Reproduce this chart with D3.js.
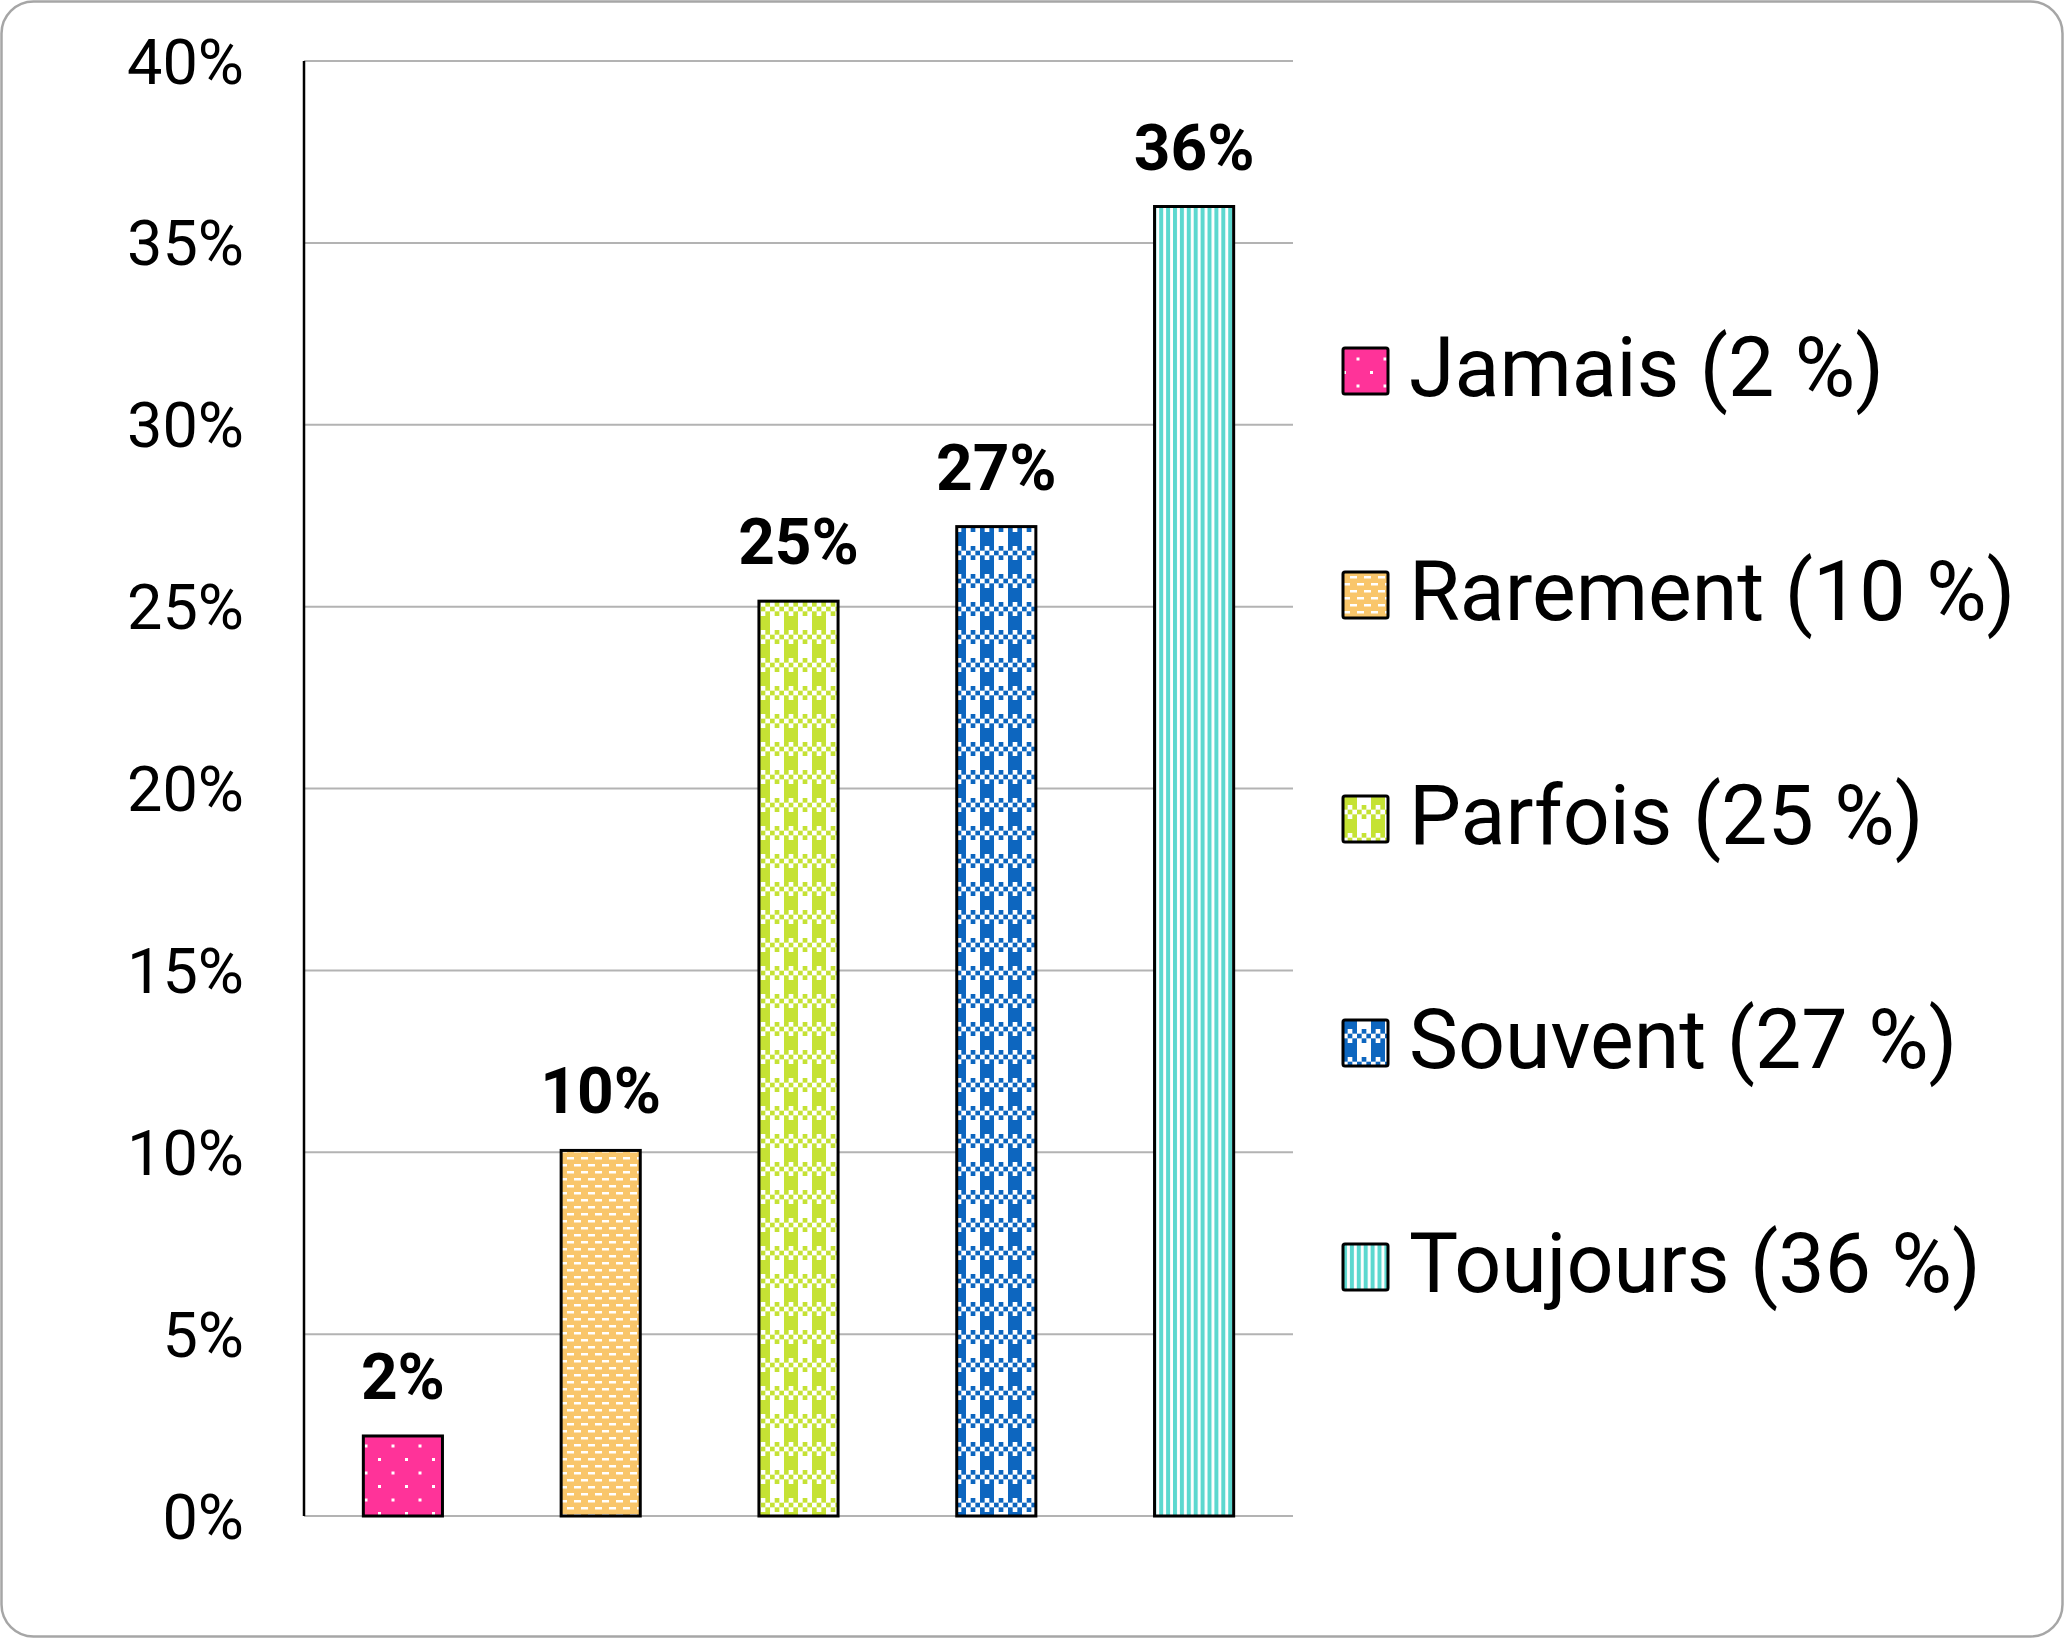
<!DOCTYPE html>
<html>
<head>
<meta charset="utf-8">
<script src="https://cdn.jsdelivr.net/npm/d3@7"></script>
<style>
  html, body { margin: 0; padding: 0; background: #fff; }
  svg { display: block; }
  text { font-family: Roboto, "Liberation Sans", sans-serif; }
</style>
</head>
<body>
<svg id="chart" width="2064" height="1638"></svg>
<script>
// ---- Data ----
const categories = ["Jamais", "Rarement", "Parfois", "Souvent", "Toujours"];
const values = [2.2, 10.05, 25.15, 27.2, 36.0];
const valueLabels = ["2%", "10%", "25%", "27%", "36%"];
const legendLabels = ["Jamais (2 %)", "Rarement (10 %)", "Parfois (25 %)", "Souvent (27 %)", "Toujours (36 %)"];
const tickValues = [0, 5, 10, 15, 20, 25, 30, 35, 40];
const tickLabels = ["0%", "5%", "10%", "15%", "20%", "25%", "30%", "35%", "40%"];
const colors = ["#ff3399", "#f9c66b", "#c5e234", "#0d66bf", "#5cd8cf"];
const patternTypes = ["dots", "dashes", "gingham", "gingham", "stripes"];

// ---- Layout ----
const W = 2064, H = 1638;
const plot = { left: 304, right: 1293, top: 61, bottom: 1516 };

const svg = d3.select("#chart");

// Border
svg.append("rect")
  .attr("x", 1.5).attr("y", 1.5)
  .attr("width", W - 3).attr("height", H - 3)
  .attr("rx", 32).attr("ry", 32)
  .attr("fill", "#fff")
  .attr("stroke", "#a6a6a6")
  .attr("stroke-width", 2.5);

// ---- Patterns ----
const defs = svg.append("defs");
function makePattern(id, type, color) {
  let p;
  if (type === "dots") {
    p = defs.append("pattern").attr("id", id).attr("patternUnits", "userSpaceOnUse")
      .attr("width", 27).attr("height", 27);
    p.append("rect").attr("width", 27).attr("height", 27).attr("fill", color);
    p.append("rect").attr("x", 0).attr("y", 0).attr("width", 3).attr("height", 3).attr("fill", "#fff");
    p.append("rect").attr("x", 13.5).attr("y", 13.5).attr("width", 3).attr("height", 3).attr("fill", "#fff");
  } else if (type === "dashes") {
    p = defs.append("pattern").attr("id", id).attr("patternUnits", "userSpaceOnUse")
      .attr("width", 14).attr("height", 14);
    p.append("rect").attr("width", 14).attr("height", 14).attr("fill", color);
    p.append("rect").attr("x", 0).attr("y", 2).attr("width", 7).attr("height", 2.5).attr("fill", "#fff");
    p.append("rect").attr("x", 7).attr("y", 9).attr("width", 7).attr("height", 2.5).attr("fill", "#fff");
  } else if (type === "gingham") {
    const s = 28, h = 14, c = 4.67;
    p = defs.append("pattern").attr("id", id).attr("patternUnits", "userSpaceOnUse")
      .attr("width", s).attr("height", s);
    p.append("rect").attr("width", s).attr("height", s).attr("fill", "#fff");
    p.append("rect").attr("x", 0).attr("y", 0).attr("width", h).attr("height", h).attr("fill", color);
    for (let i = 0; i < 6; i++) {
      for (let j = 0; j < 3; j++) {
        if ((i + j) % 2 === 0) {
          p.append("rect").attr("x", i * c).attr("y", h + j * c)
            .attr("width", c).attr("height", c).attr("fill", color);
        }
      }
    }
  } else if (type === "stripes") {
    p = defs.append("pattern").attr("id", id).attr("patternUnits", "userSpaceOnUse")
      .attr("width", 6.9).attr("height", 10);
    p.append("rect").attr("width", 6.9).attr("height", 10).attr("fill", "#fff");
    p.append("rect").attr("x", 0).attr("y", 0).attr("width", 4).attr("height", 10).attr("fill", color);
  }
}
categories.forEach((c, i) => makePattern("pat" + i, patternTypes[i], colors[i]));

// ---- Scales ----
const x = d3.scaleBand().domain(categories)
  .range([plot.left, plot.right]).paddingInner(0.6).paddingOuter(0.3);
const y = d3.scaleLinear().domain([0, 40]).range([plot.bottom, plot.top]);

// Gridlines
svg.append("g").selectAll("line").data(tickValues).join("line")
  .attr("x1", plot.left).attr("x2", plot.right)
  .attr("y1", d => y(d)).attr("y2", d => y(d))
  .attr("stroke", "#b3b3b3").attr("stroke-width", 2);

// Y axis
const yAxis = d3.axisLeft(y).tickValues(tickValues)
  .tickFormat((d, i) => tickLabels[i]).tickSize(0).tickPadding(60);
const gy = svg.append("g").attr("transform", `translate(${plot.left},0)`).call(yAxis);
gy.select(".domain").remove();
gy.selectAll("text")
  .attr("font-family", "Roboto, sans-serif")
  .attr("font-size", 63)
  .attr("fill", "#000")
  .attr("dy", "0.35em");

svg.append("line")
  .attr("x1", plot.left).attr("x2", plot.left)
  .attr("y1", plot.top).attr("y2", plot.bottom)
  .attr("stroke", "#000").attr("stroke-width", 2.5);

// Bars
svg.append("g").selectAll("rect").data(values).join("rect")
  .attr("x", (d, i) => x(categories[i]))
  .attr("y", d => y(d))
  .attr("width", x.bandwidth())
  .attr("height", d => y(0) - y(d))
  .attr("fill", (d, i) => `url(#pat${i})`)
  .attr("stroke", "#000")
  .attr("stroke-width", 3);

// Value labels
svg.append("g").selectAll("text").data(values).join("text")
  .attr("x", (d, i) => x(categories[i]) + x.bandwidth() / 2)
  .attr("y", d => y(d) - 37)
  .attr("text-anchor", "middle")
  .attr("font-size", 64)
  .attr("font-weight", "bold")
  .attr("fill", "#000")
  .text((d, i) => valueLabels[i]);

// Legend
const legend = svg.append("g");
const legY0 = 371, legStep = 224;
const items = legend.selectAll("g").data(legendLabels).join("g")
  .attr("transform", (d, i) => `translate(1343,${legY0 + i * legStep})`);
items.append("rect")
  .attr("x", 0).attr("y", -23).attr("width", 45).attr("height", 46)
  .attr("fill", (d, i) => `url(#pat${i})`)
  .attr("stroke", "#000").attr("stroke-width", 3).attr("rx", 2);
items.append("text")
  .attr("x", 66).attr("y", 25)
  .attr("font-size", 82.5)
  .attr("fill", "#000")
  .text(d => d);
</script>
</body>
</html>
